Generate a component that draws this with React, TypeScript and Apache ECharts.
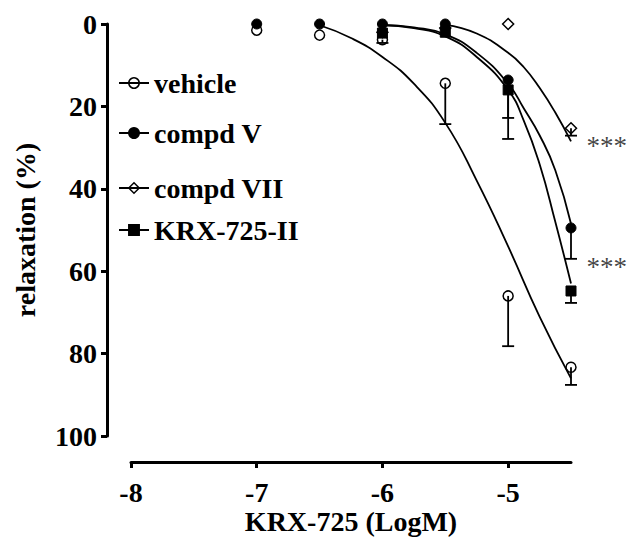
import { useEffect, useRef } from "react";
import * as echarts from "echarts";

const FONT = '"Liberation Serif", "Times New Roman", serif';

// ---- data (log M dose, % relaxation) ----
const doses = [-7, -6.5, -6, -5.5, -5, -4.5];
const vehicleMean = [1.5, 2.7, 3.8, 14.4, 66, 83.3];
const vehicleSem = [0, 0, 0.8, 9.9, 12.2, 4.3];
const compdVMean = [0, 0, 0, 0, 13.6, 49.5];
const compdVSem = [0, 0, 0, 0, 9.2, 7.5];
const compdVIIDoses = [-6, -5.5, -5, -4.5];
const compdVIIMean = [2, 1, 0, 25.3];
const compdVIISem = [0, 0, 0, 1.8];
const krxDoses = [-6, -5.5, -5, -4.5];
const krxMean = [2.2, 2, 16, 64.8];
const krxSem = [0, 0, 11.9, 2.9];

// fitted curves
const vehicleFitX = [-6.5, -6.25, -6, -5.75, -5.5, -5.25, -5, -4.75, -4.5];
const vehicleFitY = [0.3, 3.4, 8, 14.5, 24, 38, 54, 71, 86];
const krxFitX = [-6, -5.75, -5.5, -5.25, -5, -4.875, -4.75, -4.625, -4.5];
const krxFitY = [0.3, 1, 3, 8, 16, 23.5, 34, 48, 63];
const compdVFitX = [-6, -5.75, -5.5, -5.25, -5, -4.875, -4.75, -4.625, -4.5];
const compdVFitY = [0.2, 0.8, 2.5, 7, 14.5, 20.5, 27, 35.5, 48.5];
const compdVIIFitX = [-5.5, -5.25, -5, -4.875, -4.75, -4.625, -4.5];
const compdVIIFitY = [0.2, 2.3, 7, 10.5, 15.5, 21.5, 28.5];

// significance marks
const sigX = [-4.5, -4.5];
const sigY = [28.9, 58.3];
const sigText = ["***", "***"];

const xTicks = [-8, -7, -6, -5];
const legendNames = ["vehicle", "compd V", "compd VII", "KRX-725-II"];
const legendTops = [69, 119, 174, 216];

const pairs = (xs: number[], ys: number[]) => xs.map((x, i) => [x, ys[i]]);
const errTriples = (xs: number[], ys: number[], es: number[]) =>
  xs.map((x, i) => [x, ys[i], es[i]]).filter((d) => d[2] > 0);

export default function App() {
  const ref = useRef<HTMLDivElement>(null);
  useEffect(() => {
    const chart = echarts.init(ref.current!, null, { renderer: "svg" });
    const black = "#000";
    const markerBase = {
      type: "line",
      lineStyle: { width: 0, opacity: 0 },
      clip: false,
      silent: true,
      emphasis: { disabled: true },
    };
    const fitBase = {
      type: "line",
      smooth: 0.5,
      showSymbol: false,
      symbol: "none",
      lineStyle: { color: black, width: 1.8 },
      itemStyle: { color: black },
      clip: false,
      silent: true,
      z: 2,
    };
    const errData = [
      ...errTriples(doses, vehicleMean, vehicleSem),
      ...errTriples(doses, compdVMean, compdVSem),
      ...errTriples(compdVIIDoses, compdVIIMean, compdVIISem),
      ...errTriples(krxDoses, krxMean, krxSem),
    ];
    const option = {
      animation: false,
      backgroundColor: "#fff",
      grid: {
        left: 131,
        right: 57,
        top: 24,
        bottom: 104,
        containLabel: false,
        outerBoundsMode: "none",
      },
      xAxis: {
        type: "value",
        position: "bottom",
        min: -8,
        max: -4.5,
        interval: 1,
        offset: 26,
        name: "KRX-725 (LogM)",
        nameLocation: "middle",
        nameGap: 45,
        nameMoveOverlap: false,
        nameTextStyle: { fontFamily: FONT, fontSize: 28, fontWeight: "bold", color: black },
        axisLine: { onZero: false, lineStyle: { color: black, width: 3 } },
        axisTick: { show: true, length: 6, lineStyle: { color: black, width: 3 }, customValues: xTicks },
        axisLabel: {
          customValues: xTicks,
          margin: 16,
          fontFamily: FONT,
          fontSize: 28,
          fontWeight: "bold",
          color: black,
          formatter: (v: number) => String(v),
        },
        splitLine: { show: false },
      },
      yAxis: {
        type: "value",
        inverse: true,
        min: 0,
        max: 100,
        interval: 20,
        offset: 24,
        name: "relaxation (%)",
        nameLocation: "middle",
        nameRotate: 90,
        nameGap: 68,
        nameMoveOverlap: false,
        nameTextStyle: { fontFamily: FONT, fontSize: 28, fontWeight: "bold", color: black },
        axisLine: { onZero: false, lineStyle: { color: black, width: 3 } },
        axisTick: { show: true, length: 6, lineStyle: { color: black, width: 3 } },
        axisLabel: { margin: 10, fontFamily: FONT, fontSize: 28, fontWeight: "bold", color: black },
        splitLine: { show: false },
      },
      legend: legendNames.map((n, i) => ({
        data: [n],
        orient: "vertical",
        left: 118,
        top: legendTops[i],
        padding: 0,
        itemWidth: 30,
        itemHeight: 13,
        selectedMode: false,
        textStyle: { fontFamily: FONT, fontSize: 28, fontWeight: "bold", color: black },
        lineStyle: { width: 2, color: black, opacity: 1, type: "solid" },
        itemStyle: { borderColor: black, borderWidth: 1.5 },
      })),
      series: [
        { ...fitBase, name: "vehicle fit", data: pairs(vehicleFitX, vehicleFitY) },
        { ...fitBase, name: "compd V fit", data: pairs(compdVFitX, compdVFitY) },
        { ...fitBase, name: "compd VII fit", data: pairs(compdVIIFitX, compdVIIFitY) },
        { ...fitBase, name: "KRX fit", data: pairs(krxFitX, krxFitY) },
        {
          ...markerBase,
          name: "vehicle",
          data: pairs(doses, vehicleMean),
          symbol: "circle",
          symbolSize: 10,
          itemStyle: { color: "rgba(0,0,0,0)", borderColor: black, borderWidth: 1.5 },
          z: 4,
        },
        {
          ...markerBase,
          name: "compd VII",
          data: pairs(compdVIIDoses, compdVIIMean),
          symbol: "diamond",
          symbolSize: 11,
          itemStyle: { color: "rgba(0,0,0,0)", borderColor: black, borderWidth: 1.5 },
          z: 3,
        },
        {
          ...markerBase,
          name: "compd V",
          data: pairs(doses, compdVMean),
          symbol: "circle",
          symbolSize: 10,
          itemStyle: { color: black, borderColor: black, borderWidth: 1 },
          z: 5,
        },
        {
          ...markerBase,
          name: "KRX-725-II",
          data: pairs(krxDoses, krxMean),
          symbol: "rect",
          symbolSize: 10,
          itemStyle: { color: black, borderColor: black, borderWidth: 1 },
          z: 5,
        },
        {
          type: "custom",
          name: "error bars",
          data: errData,
          silent: true,
          z: 6,
          encode: { x: 0, y: 1 },
          renderItem: (_params: any, api: any) => {
            const x = api.value(0);
            const y = api.value(1);
            const e = api.value(2);
            const p0 = api.coord([x, y]);
            const p1 = api.coord([x, y + e]);
            const st = { stroke: black, lineWidth: 1.8 };
            return {
              type: "group",
              children: [
                { type: "line", shape: { x1: p0[0], y1: p0[1], x2: p1[0], y2: p1[1] }, style: st },
                { type: "line", shape: { x1: p1[0] - 6, y1: p1[1], x2: p1[0] + 6, y2: p1[1] }, style: st },
              ],
            };
          },
        },
        {
          type: "scatter",
          name: "significance",
          data: sigX.map((x, i) => ({ value: [x, sigY[i]], label: { formatter: sigText[i] } })),
          symbolSize: 1,
          itemStyle: { color: "rgba(0,0,0,0)" },
          silent: true,
          clip: false,
          z: 6,
          label: {
            show: true,
            position: "right",
            distance: 15,
            offset: [0, 3],
            fontFamily: FONT,
            fontSize: 27,
            color: "#111",
          },
        },
      ],
    };
    chart.setOption(option as any);
    return () => chart.dispose();
  }, []);
  return (
    <div
      ref={ref}
      style={{ position: "fixed", left: 0, top: 0, width: 628, height: 540, background: "#fff" }}
    />
  );
}
